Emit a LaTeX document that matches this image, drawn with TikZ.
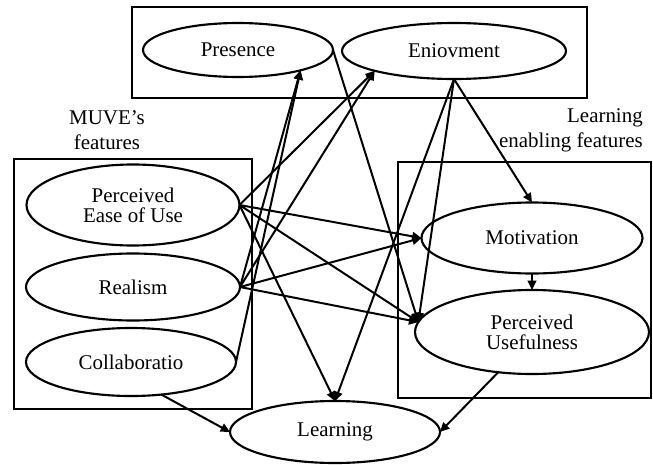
\documentclass[tikz,border=0pt]{standalone}
\usepackage{fontspec}
\setmainfont{Liberation Serif}
\usepackage{tikz}
\usetikzlibrary{arrows.meta,shapes.geometric}
\tikzset{
  groupbox/.style={line width=1.6pt,black},
  factor/.style={ellipse,draw,line width=1.6pt,fill=white,inner sep=0pt,outer sep=0pt,align=center,
    font=\fontsize{15.7}{15}\selectfont},
  esize/.style 2 args={minimum width=#1*0.75pt,minimum height=#2*0.75pt},
  grouplabel/.style={inner sep=0pt,font=\fontsize{15.7}{19}\selectfont},
  link/.style={line width=1.5pt,-{Triangle[length=7pt,width=6.5pt]}}
}

\begin{document}
\begin{tikzpicture}[x=0.75pt,y=-0.75pt]
  \useasboundingbox (0,0) rectangle (653,464);
  \draw[groupbox] (132,7) rectangle (587,98);
  \draw[groupbox] (14,159) rectangle (252,409);
  \draw[groupbox] (398,162) rectangle (651,398);
  \node[grouplabel,align=center] (muve) at (107,130) {MUVE’s\\features};
  \node[grouplabel,align=right,anchor=east] (enabling) at (643,130) {Learning\\enabling features};
  \node[factor,esize={190}{54}] (pres) at (238,50) {Presence};
  \node[factor,esize={224}{56}] (enjoy) at (454,51) {Eniovment};
  \node[factor,esize={213}{81}] (peou) at (133,205) {Perceived\\Ease of Use};
  \node[factor,esize={214}{67}] (real) at (133,287) {Realism};
  \node[factor,esize={210}{68}] (collab) at (131,362) {Collaboratio};
  \node[factor,esize={221}{71}] (motiv) at (532,238) {Motivation};
  \node[factor,esize={234}{84}] (usef) at (532,332) {Perceived\\Usefulness};
  \node[factor,esize={210}{62}] (learn) at (335,432) {Learning};
  \foreach \a/\b in {real.east/pres.-18,collab.east/pres.-18,peou.east/enjoy.-166,real.east/enjoy.-166,
      peou.east/motiv.west,real.east/motiv.west,peou.east/usef.175,real.east/usef.175,pres.east/usef.175,
      enjoy.south/usef.175,enjoy.south/motiv.north,enjoy.south/learn.north,peou.east/learn.north,
      collab.-47/learn.west,usef.-130/learn.east,motiv.south/usef.north}
    {\draw[link] (\a) -- (\b);}
\end{tikzpicture}
\end{document}
